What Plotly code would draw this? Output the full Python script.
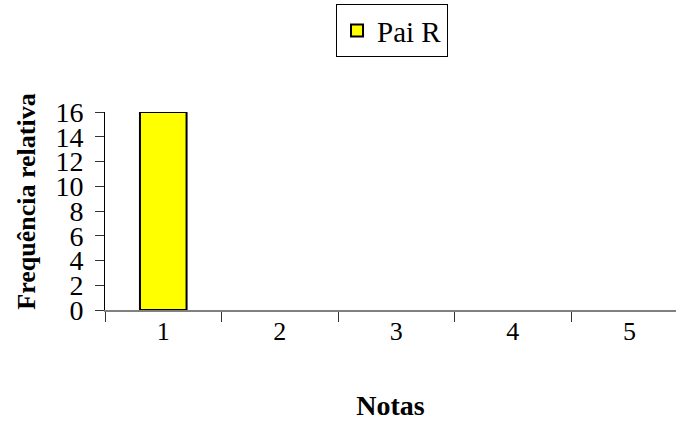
import plotly.graph_objects as go

# Frequency of grades for "Pai R"
notas = ["1", "2", "3", "4", "5"]
freq_pai_r = [16, 0, 0, 0, 0]
y_ticks = [0, 2, 4, 6, 8, 10, 12, 14, 16]

serif = "Liberation Serif"

# outline only the bars that have height
outline = [2 if v > 0 else 0 for v in freq_pai_r]

fig = go.Figure()
fig.add_trace(go.Bar(
    x=notas,
    y=freq_pai_r,
    name="Pai R",
    width=0.4,
    marker=dict(color="#FFFF00", line=dict(color="#000000", width=outline)),
))

fig.update_layout(
    width=676,
    height=430,
    margin=dict(l=105, r=0, t=112, b=120),
    paper_bgcolor="white",
    plot_bgcolor="white",
    font=dict(family=serif, color="black", size=26),
    showlegend=True,
    legend=dict(
        x=0.4046, y=1.545, xanchor="left", yanchor="top",
        bordercolor="black", borderwidth=1,
        font=dict(family=serif, size=29, color="black"),
        itemsizing="constant",
    ),
)

fig.update_xaxes(
    type="category",
    range=[-0.5, 4.4],
    tickson="boundaries",
    ticks="outside",
    ticklen=10,
    tickcolor="#333333",
    showline=True,
    linecolor="#808080",
    linewidth=2,
    showgrid=False,
    zeroline=False,
    ticklabelstandoff=-3,
    tickfont=dict(family=serif, size=26, color="black"),
    title=dict(text="<b>Notas</b>", font=dict(family=serif, size=28, color="black"), standoff=50),
)

fig.update_yaxes(
    range=[0, 16],
    tickvals=y_ticks,
    ticks="outside",
    ticklen=9,
    tickcolor="#333333",
    showline=True,
    linecolor="#000000",
    linewidth=1,
    showgrid=False,
    zeroline=False,
    ticklabelstandoff=6,
    tickfont=dict(family=serif, size=28, color="black"),
    title=None,
)

fig.add_annotation(
    text="<b>Frequência relativa</b>",
    xref="paper", yref="paper",
    x=-0.137, y=-0.01,
    xanchor="center", yanchor="bottom",
    textangle=-90,
    showarrow=False,
    font=dict(family=serif, size=26, color="black"),
)

fig.write_html("out.html")
